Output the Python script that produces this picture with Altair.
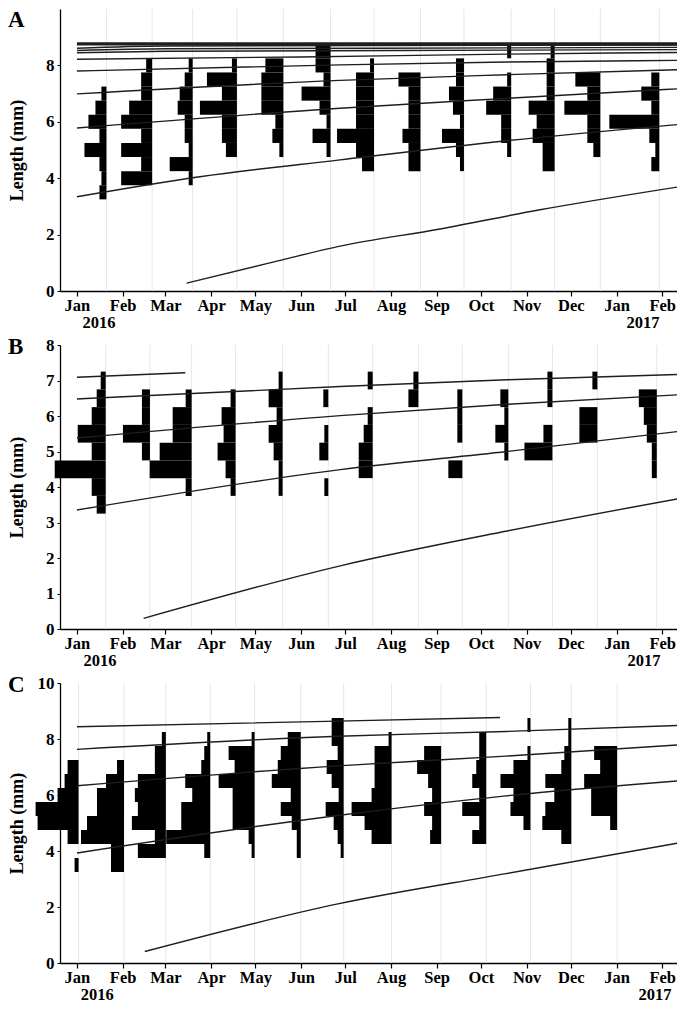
import altair as alt
import pandas as pd

# ---------------- data ----------------
BINS = [3.5, 4.0, 4.5, 5.0, 5.5, 6.0, 6.5, 7.0, 7.5, 8.0, 8.5]   # length-class mid points (mm), 0.5 mm classes
MONTH_DAYS = [0, 31, 60, 91, 121, 152, 182, 213, 244, 274, 305, 335, 366, 397]  # days since 1 Jan 2016
MONTH_NAMES = ["Jan", "Feb", "Mar", "Apr", "May", "Jun", "Jul", "Aug", "Sep", "Oct", "Nov", "Dec", "Jan", "Feb"]

# ---- Panel A ----
A_DAYS = [20, 51, 78.5, 108.5, 140, 172, 201.5, 233, 262.5, 294.5, 324, 355, 395]
A_FREQ = [
    [7, 5, 7, 22, 7, 18, 11, 5, 0, 0, 0],
    [0, 31, 11, 31, 11, 31, 23, 11, 11, 6, 0],
    [0, 4, 23, 4, 8, 8, 15, 13, 8, 4, 0],
    [0, 0, 0, 11, 15, 15, 37, 15, 30, 5, 0],
    [0, 0, 0, 4, 11, 8, 22, 22, 22, 18, 0],
    [0, 0, 0, 4, 18, 4, 11, 29, 7, 15, 15],
    [0, 0, 12, 18, 37, 18, 18, 18, 18, 4, 0],
    [0, 0, 12, 12, 18, 12, 12, 12, 22, 0, 0],
    [0, 0, 4, 8, 22, 4, 11, 15, 8, 8, 0],
    [0, 0, 0, 4, 10, 10, 25, 18, 4, 0, 4],
    [0, 0, 12, 12, 22, 18, 26, 8, 8, 8, 4],
    [0, 0, 0, 7, 13, 13, 36, 13, 25, 0, 0],
    [0, 0, 8, 4, 10, 50, 8, 18, 8, 0, 0],
]
A_CURVES = [
    [(74.4, 0.28), (128.7, 0.97), (178.4, 1.59), (246.3, 2.20), (314, 2.88), (411.3, 3.72)],
    [(0, 3.34), (83.4, 4.05), (178.4, 4.65), (291.5, 5.33), (411.3, 5.92)],
    [(0, 5.78), (178.4, 6.48), (291.5, 6.83), (411.3, 7.18)],
    [(0, 6.99), (178.4, 7.47), (291.5, 7.67), (411.3, 7.85)],
    [(0, 7.80), (178.4, 8.02), (291.5, 8.12), (411.3, 8.18)],
    [(0, 8.22), (151, 8.30), (291.5, 8.40), (411.3, 8.46)],
    [(0, 8.45), (60, 8.50), (291.5, 8.54), (411.3, 8.56)],
    [(0, 8.53), (60, 8.59), (291.5, 8.62), (411.3, 8.64)],
    [(0, 8.61), (60, 8.69), (411.3, 8.72)],
]
A_TOP_CURVE = [(0, 8.76), (411.3, 8.76)]

# ---- Panel B ----
B_DAYS = [19.5, 49.5, 77.8, 107.6, 139.5, 170.5, 200.6, 231.6, 261.4, 292.6, 322.5, 353, 393.3]
B_FREQ = [
    [9, 14, 51, 14, 28, 14, 9, 5, 0, 0, 0],
    [0, 0, 0, 8, 27, 8, 8, 0, 0, 0, 0],
    [0, 6, 42, 32, 19, 19, 6, 0, 0, 0, 0],
    [0, 5, 10, 18, 12, 14, 5, 0, 0, 0, 0],
    [0, 4, 4, 9, 14, 6, 14, 4, 0, 0, 0],
    [0, 4, 0, 9, 4, 0, 5, 0, 0, 0, 0],
    [0, 0, 14, 14, 9, 5, 0, 5, 0, 0, 0],
    [0, 0, 0, 0, 0, 0, 10, 5, 0, 0, 0],
    [0, 0, 14, 0, 5, 5, 5, 0, 0, 0, 0],
    [0, 0, 0, 4, 13, 4, 8, 0, 0, 0, 0],
    [0, 0, 0, 28, 9, 0, 5, 5, 0, 0, 0],
    [0, 0, 0, 0, 18, 18, 0, 5, 0, 0, 0],
    [0, 0, 5, 5, 10, 13, 18, 0, 0, 0, 0],
]
B_CURVES = [
    [(45.2, 0.30), (178.6, 1.78), (291.7, 2.76), (409.3, 3.68)],
    [(0, 3.35), (178.6, 4.49), (291.7, 5.00), (409.3, 5.57)],
    [(0, 5.38), (178.6, 6.01), (291.7, 6.33), (409.3, 6.60)],
    [(0, 6.48), (178.6, 6.83), (291.7, 7.02), (409.3, 7.17)],
    [(0, 7.09), (73.5, 7.22)],
]

# ---- Panel C ----
C_DAYS = [1.1, 31.9, 60.3, 90.4, 120.5, 151.8, 180.9, 213.4, 247, 277.6, 307.6, 335.3, 366.4]
C_FREQ = [
    [4, 0, 11, 41, 43, 21, 14, 11, 0, 0, 0],
    [13, 13, 43, 37, 27, 27, 18, 7, 0, 0, 0],
    [0, 28, 11, 34, 28, 31, 28, 11, 11, 4, 0],
    [0, 6, 44, 29, 29, 18, 25, 9, 6, 3, 0],
    [0, 3, 6, 22, 22, 22, 36, 20, 26, 3, 0],
    [0, 4, 4, 9, 20, 10, 29, 23, 20, 13, 0],
    [0, 3, 6, 10, 18, 5, 12, 17, 6, 12, 12],
    [0, 0, 20, 27, 40, 20, 17, 17, 17, 3, 0],
    [0, 0, 11, 9, 17, 9, 13, 24, 17, 0, 0],
    [0, 0, 14, 7, 24, 7, 14, 10, 7, 7, 0],
    [0, 0, 0, 7, 20, 17, 30, 17, 3, 0, 3],
    [0, 0, 10, 29, 26, 17, 26, 10, 7, 3, 3],
    [0, 0, 0, 7, 26, 26, 33, 17, 23, 0, 0],
]
C_CURVES = [
    [(46, 0.41), (177, 2.11), (291, 3.19), (411.6, 4.32)],
    [(0, 3.93), (177, 5.27), (291, 5.97), (411.6, 6.52)],
    [(0, 6.33), (177, 7.04), (291, 7.39), (411.6, 7.80)],
    [(0, 7.63), (177, 8.10), (291, 8.27), (411.6, 8.49)],
    [(0, 8.44), (177, 8.64), (287, 8.77)],
]

A_YEARS = [(15, "2016"), (384, "2017")]
B_YEARS = [(15.6, "2016"), (384.7, "2017")]
C_YEARS = [(13.7, "2016"), (392, "2017")]

# ---------------- chart construction ----------------
FONT = "Liberation Serif"
FREQ_SCALE = 0.678      # days of horizontal extent per frequency unit
HALF_BIN = 0.25
X_DOMAIN = [-11.5, 407]
WIDTH = 617

names_js = "[" + ",".join("'%s'" % m for m in MONTH_NAMES) + "]"
days_js = "[" + ",".join(str(d) for d in MONTH_DAYS) + "]"
label_expr = "%s[indexof(%s, datum.value)]" % (names_js, days_js)


def bars_frame(days, freqs):
    rows = []
    for d, row in zip(days, freqs):
        for b, f in zip(BINS, row):
            if f > 0:
                rows.append({"day": d, "freq": f, "bin": b})
    return pd.DataFrame(rows)


def curves_frame(curves):
    rows = []
    for i, c in enumerate(curves):
        for d, L in c:
            rows.append({"curve": i, "day": d, "L": L})
    return pd.DataFrame(rows)


def panel(letter, days, freqs, curves, ymax, yvals, height, years, top_curve=None):
    xs = alt.Scale(domain=X_DOMAIN, nice=False, zero=False)
    ys = alt.Scale(domain=[0, ymax], nice=False, zero=True)
    xa = alt.Axis(values=MONTH_DAYS, labelExpr=label_expr, grid=False, title=None,
                  labelFontSize=16.5, labelPadding=1, tickSize=5, labelOverlap=False,
                  labelFlush=False, domainWidth=1.3, tickWidth=1.2)
    ya = alt.Axis(values=yvals, grid=False, title="Length (mm)", titleFontSize=18,
                  titleX=-34, titleY=height / 2, titleAngle=-90, titleBaseline="bottom",
                  titleAlign="center", labelFontSize=17, labelPadding=3, tickSize=3,
                  domainWidth=1.3)

    grid = alt.Chart(pd.DataFrame({"day": days})).mark_rule(
        color="#e6e6e6", strokeWidth=1
    ).encode(
        x=alt.X("day:Q", scale=xs, axis=xa),
        y=alt.value(0), y2=alt.value(height),
    )

    bars = alt.Chart(bars_frame(days, freqs)).transform_calculate(
        x0="datum.day - datum.freq * %f" % FREQ_SCALE,
        lo="datum.bin - %f" % HALF_BIN,
        hi="datum.bin + %f" % HALF_BIN,
    ).mark_rect(color="black").encode(
        x=alt.X("x0:Q", scale=xs, axis=xa),
        x2="day:Q",
        y=alt.Y("lo:Q", scale=ys, axis=ya),
        y2="hi:Q",
    )

    lines = alt.Chart(curves_frame(curves)).mark_line(
        color="#1e1e1e", strokeWidth=1.4, interpolate="monotone", clip=True
    ).encode(
        x=alt.X("day:Q", scale=xs, axis=xa),
        y=alt.Y("L:Q", scale=ys, axis=ya),
        detail="curve:N",
    )

    layers = [grid, bars, lines]
    if top_curve is not None:
        top = alt.Chart(curves_frame([top_curve])).mark_line(
            color="#1e1e1e", strokeWidth=3.2, clip=True
        ).encode(
            x=alt.X("day:Q", scale=xs, axis=xa),
            y=alt.Y("L:Q", scale=ys, axis=ya),
        )
        layers.append(top)

    yr = alt.Chart(pd.DataFrame({"day": [d for d, _ in years], "t": [t for _, t in years]})).mark_text(
        font=FONT, fontWeight="bold", fontSize=16.5, baseline="middle", align="center", color="black"
    ).encode(
        x=alt.X("day:Q", scale=xs, axis=xa),
        y=alt.value(height + 32),
        text="t:N",
    )
    lab = alt.Chart(pd.DataFrame({"t": [letter]})).mark_text(
        font=FONT, fontWeight="bold", fontSize=23, baseline="top", align="left", color="black"
    ).encode(
        x=alt.value(-52), y=alt.value(-9 if letter != "A" else 0), text="t:N",
    )
    layers += [yr, lab]
    return alt.layer(*layers).properties(width=WIDTH, height=height)


pA = panel("A", A_DAYS, A_FREQ, A_CURVES, 10, [0, 2, 4, 6, 8], 282, A_YEARS, A_TOP_CURVE)
pB = panel("B", B_DAYS, B_FREQ, B_CURVES, 8, [0, 1, 2, 3, 4, 5, 6, 7, 8], 284, B_YEARS)
pC = panel("C", C_DAYS, C_FREQ, C_CURVES, 10, [0, 2, 4, 6, 8, 10], 280, C_YEARS)

chart = alt.vconcat(pA, pB, pC, spacing=54, bounds="flush").properties(
    padding={"left": 0, "top": 0, "right": 0, "bottom": 0}
).configure_view(stroke=None).configure_axis(
    labelFont=FONT, titleFont=FONT, labelFontWeight="bold", titleFontWeight="bold",
    labelColor="black", titleColor="black", domainColor="black", tickColor="black",
)

chart.save("out.html", embed_options={"renderer": "svg", "actions": False})
